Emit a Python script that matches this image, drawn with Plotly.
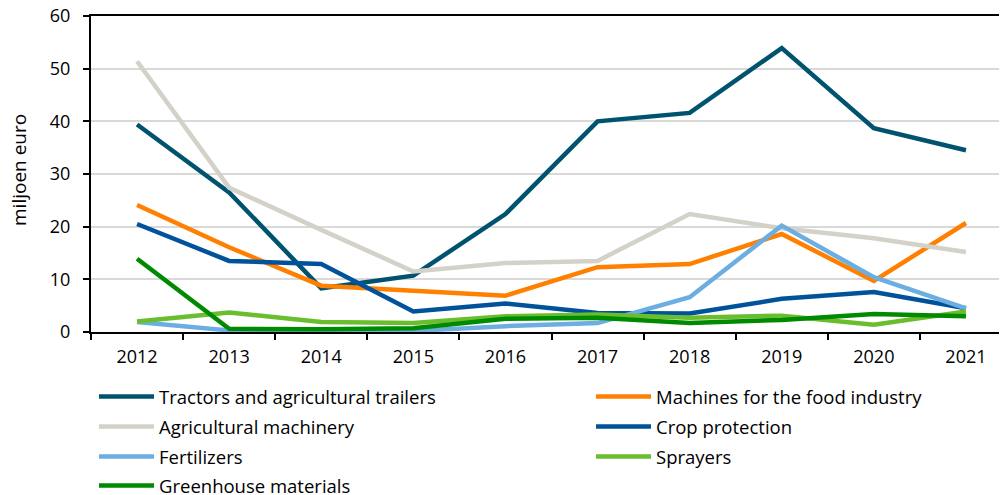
import plotly.graph_objects as go

years = ["2012", "2013", "2014", "2015", "2016", "2017", "2018", "2019", "2020", "2021"]

tractors = [39.4, 26.5, 8.3, 10.7, 22.4, 40.0, 41.6, 53.9, 38.7, 34.5]
food_machines = [24.1, 16.1, 8.8, 7.8, 6.9, 12.3, 12.9, 18.6, 9.7, 20.7]
agri_machinery = [51.4, 27.4, 19.4, 11.5, 13.1, 13.5, 22.4, 19.7, 17.8, 15.2]
crop_protection = [20.5, 13.5, 12.9, 3.9, 5.4, 3.6, 3.5, 6.3, 7.6, 4.5]
fertilizers = [1.9, 0.3, 0.2, 0.2, 1.1, 1.7, 6.6, 20.2, 10.4, 4.5]
sprayers = [2.0, 3.7, 1.9, 1.7, 3.0, 3.3, 2.7, 3.1, 1.4, 3.9]
greenhouse = [13.9, 0.6, 0.5, 0.7, 2.5, 2.7, 1.7, 2.3, 3.4, 3.0]

series = [
    ("Tractors and agricultural trailers", tractors, "#00536E"),
    ("Machines for the food industry", food_machines, "#FF7F00"),
    ("Agricultural machinery", agri_machinery, "#D4D1C8"),
    ("Crop protection", crop_protection, "#00529B"),
    ("Fertilizers", fertilizers, "#6CAEE2"),
    ("Sprayers", sprayers, "#6ABE2E"),
    ("Greenhouse materials", greenhouse, "#008A00"),
]

W, H = 1007, 495
ML, MR, MT, MB = 83, 3, 8, 171

# legend grid (figure pixel anchors): two columns, four rows
legend_cols_px = [86, 583]
legend_rows_px = [389, 419, 449, 478]

font_family = "Open Sans, Noto Sans, sans-serif"

fig = go.Figure()
layout_legends = {}
for i, (name, vals, color) in enumerate(series):
    lname = "legend" if i == 0 else f"legend{i + 1}"
    fig.add_trace(go.Scatter(
        x=years, y=vals, name=name, mode="lines",
        line=dict(color=color, width=4.5), legend=lname,
    ))
    col, row = i % 2, i // 2
    layout_legends[lname] = dict(
        xref="container", yref="container",
        x=legend_cols_px[col] / W, xanchor="left",
        y=1 - legend_rows_px[row] / H, yanchor="middle",
        itemwidth=55, borderwidth=0, bgcolor="rgba(0,0,0,0)",
        font=dict(family=font_family, size=18.5, color="#000000"),
    )

plot_w = W - ML - MR
plot_h = H - MT - MB

fig.update_layout(
    width=W, height=H,
    margin=dict(l=ML, r=MR, t=MT, b=MB, autoexpand=False),
    paper_bgcolor="white", plot_bgcolor="white",
    font=dict(family=font_family, size=18, color="#000000"),
    showlegend=True,
    annotations=[dict(
        text="miljoen euro", textangle=-90,
        xref="paper", yref="paper",
        x=(11 - ML) / plot_w, y=(MT + plot_h - 162) / plot_h,
        xanchor="center", yanchor="middle", showarrow=False,
        font=dict(family=font_family, size=19, color="#000000"),
    )],
    **layout_legends,
)

fig.update_xaxes(
    type="category", range=[-0.5, 9.5],
    tickson="boundaries", ticks="outside", ticklen=6, tickwidth=1.5, tickcolor="black",
    showline=True, linecolor="black", linewidth=2, mirror=True,
    showgrid=False, tickfont=dict(size=18), automargin=False,
    ticklabelstandoff=7, ticklabeloverflow="allow",
)
fig.update_yaxes(
    range=[0, 60], tickvals=[0, 10, 20, 30, 40, 50, 60],
    ticks="outside", ticklen=6, tickwidth=1.5, tickcolor="black",
    showline=True, linecolor="black", linewidth=2,
    showgrid=True, gridcolor="#D9D9D9", gridwidth=1.5,
    zeroline=False, automargin=False,
    tickfont=dict(size=18), ticklabelstandoff=9, ticklabeloverflow="allow",
)

fig.write_html("out.html")
